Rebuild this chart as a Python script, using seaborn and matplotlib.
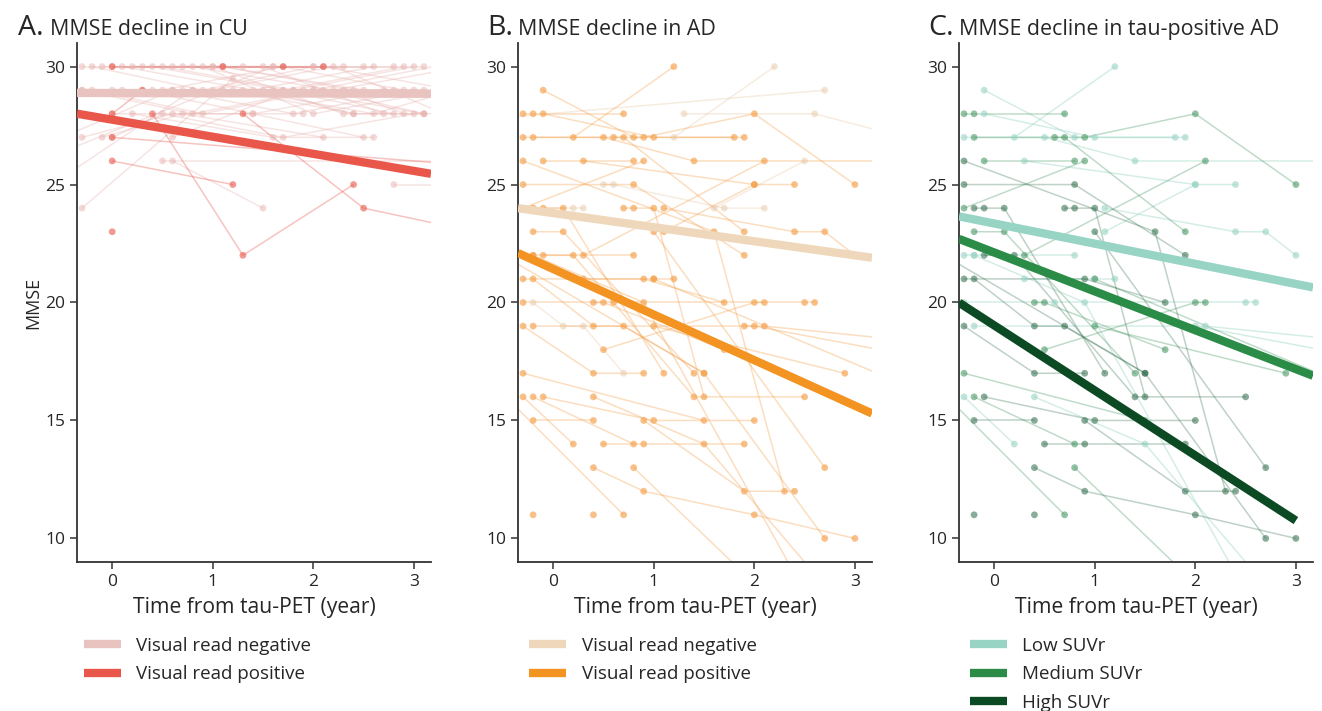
import numpy as np
import pandas as pd
import matplotlib
matplotlib.use("Agg")
import matplotlib.pyplot as plt
from matplotlib.lines import Line2D
import seaborn as sns

sns.set_style("ticks")
plt.rcParams['font.family'] = ['Open Sans', 'DejaVu Sans']

# ---- individual trajectories, (time from tau-PET in years, MMSE) per visit ----
# panel A, cognitively unimpaired
CU_NEG = [
    [(-0.3, 30), (1.0, 30), (2.3, 30)],
    [(-0.2, 30), (0.9, 29), (2.0, 30)],
    [(-0.1, 30), (1.1, 30), (2.4, 29)],
    [(0.0, 30), (1.3, 30), (2.5, 30)],
    [(0.1, 30), (1.4, 29), (2.6, 30)],
    [(0.2, 30), (1.5, 30), (2.7, 28)],
    [(0.3, 30), (1.6, 30), (2.8, 30)],
    [(0.4, 30), (1.7, 29), (2.9, 30)],
    [(0.5, 30), (1.8, 29), (3.0, 30)],
    [(0.6, 30), (2.0, 30), (3.1, 30)],
    [(0.7, 30), (2.1, 30), (3.4, 29)],
    [(0.8, 30), (2.2, 29), (3.5, 30)],
    [(0.9, 30), (2.0, 28), (3.3, 29)],
    [(1.0, 30), (2.3, 28), (3.5, 28)],
    [(1.1, 30), (2.5, 29), (3.6, 29)],
    [(-0.3, 29), (0.8, 28), (2.0, 29)],
    [(-0.2, 29), (0.9, 28), (2.1, 29), (3.1, 28)],
    [(0.0, 29), (1.2, 29), (2.4, 28)],
    [(0.1, 29), (1.3, 29), (2.6, 28), (3.4, 29)],
    [(0.3, 29), (1.4, 28), (2.7, 29)],
    [(0.4, 29), (1.6, 29), (2.8, 29)],
    [(0.5, 29), (1.7, 30), (2.9, 29)],
    [(0.6, 29), (1.8, 28), (3.0, 29)],
    [(0.7, 29), (1.9, 29), (3.1, 29)],
    [(0.8, 29), (2.0, 29), (3.2, 30)],
    [(1.0, 29), (2.2, 30), (3.3, 28)],
    [(1.1, 29), (2.3, 29), (2.9, 28)],
    [(-0.3, 27), (0.6, 28), (1.9, 28)],
    [(-0.1, 27), (0.7, 28), (2.1, 27)],
    [(0.0, 27), (0.5, 28), (1.7, 27), (3.0, 28)],
    [(0.2, 28), (1.6, 27), (2.6, 27)],
    [(0.0, 28), (1.4, 28), (2.5, 27)],
    [(0.5, 26), (3.6, 26)],
    [(0.6, 26), (1.5, 24)],
    [(0.6, 27), (1.8, 29), (3.1, 28)],
    [(-0.6, 25), (0.8, 29)],
    [(-0.6, 26.2), (1.6, 30)],
    [(-0.5, 27), (0.6, 29)],
    [(-0.3, 24), (1.2, 29.5)],
    [(2.8, 25), (3.6, 25)],
    [(1.5, 29), (2.4, 28), (3.1, 28)],
    [(-0.3, 29), (1.7, 29), (2.8, 28)],
]
CU_POS = [
    [(0.4, 28), (1.3, 22), (2.4, 25)],
    [(0.0, 26), (1.2, 25)],
    [(0.0, 23)],
    [(1.3, 28), (2.5, 24), (3.6, 23)],
    [(0.0, 30), (1.1, 30), (1.7, 30), (2.1, 30)],
    [(0.0, 28), (0.3, 29)],
    [(0.0, 27), (3.6, 25.8)],
]

# panels B and C, AD (visual read negative, and tau-positive split by SUVr tertile)
AD_NEG = [
    [(1.2, 27), (2.2, 30)],
    [(-0.6, 27.8), (2.7, 29)],
    [(1.3, 28), (2.6, 28), (3.5, 27)],
    [(1.6, 24), (2.5, 26)],
    [(0.5, 25), (0.6, 25), (1.7, 24), (2.1, 24)],
    [(-0.2, 24), (0.2, 24), (0.3, 24)],
    [(-0.2, 20), (0.1, 19), (0.3, 19), (0.7, 17)],
]
AD_LOW = [
    [(0.2, 27), (1.2, 30)],
    [(-0.1, 29), (0.8, 27), (1.8, 27)],
    [(-0.1, 28), (1.0, 27), (1.9, 27)],
    [(-0.3, 27), (0.5, 27), (1.4, 26), (3.5, 26)],
    [(0.3, 26), (2.0, 25)],
    [(1.1, 24), (2.4, 23), (2.7, 23), (3.0, 22)],
    [(-0.3, 22), (-0.2, 22), (0.8, 22)],
    [(0.3, 21), (1.0, 21), (1.2, 21)],
    [(1.1, 23), (2.0, 25), (2.4, 25)],
    [(-0.3, 20), (0.6, 20), (2.5, 20), (2.6, 20)],
    [(-0.2, 19), (2.1, 19), (3.5, 18.4)],
    [(-0.3, 16), (0.2, 14)],
    [(0.4, 16), (1.5, 14), (2.6, 8.5)],
    [(1.9, 19), (2.0, 19), (3.5, 17.8)],
    [(-0.2, 22), (0.9, 20), (2.4, 8.5)],
]
AD_MED = [
    [(-0.3, 28), (-0.2, 28), (0.7, 28)],
    [(-0.2, 27), (0.9, 27), (2.0, 28), (3.0, 25)],
    [(0.6, 27), (0.7, 27), (1.9, 23)],
    [(-0.1, 26), (0.8, 26)],
    [(-0.3, 24), (0.9, 26)],
    [(0.3, 22), (2.1, 26)],
    [(-0.2, 23), (0.1, 23), (1.4, 17)],
    [(0.4, 20), (0.5, 20), (1.7, 18)],
    [(0.5, 18), (2.0, 20), (2.1, 20)],
    [(1.0, 19), (2.9, 17)],
    [(-0.3, 17), (1.5, 15)],
    [(-0.2, 16), (0.8, 14)],
    [(-0.4, 15.7), (0.7, 11)],
    [(0.8, 13), (1.9, 8.5)],
    [(1.0, 21), (3.5, 16.5)],
]
AD_HIGH = [
    [(-0.3, 26), (1.6, 23), (2.3, 12)],
    [(-0.3, 25), (0.8, 25), (1.9, 22)],
    [(-0.2, 24), (-0.1, 24), (0.1, 24), (1.1, 17)],
    [(0.7, 24), (0.8, 24), (1.0, 24), (1.5, 16)],
    [(1.0, 23), (2.7, 13)],
    [(-0.1, 22), (0.2, 22), (1.4, 16), (2.5, 16)],
    [(-0.3, 21), (0.9, 21), (1.7, 20)],
    [(-0.2, 21), (0.4, 19), (0.7, 19), (1.5, 17)],
    [(-0.3, 19), (0.4, 17), (0.9, 17)],
    [(-0.5, 22), (1.5, 17), (2.7, 10)],
    [(-0.1, 16), (1.0, 15), (2.0, 15)],
    [(-0.2, 15), (0.4, 15)],
    [(0.5, 14), (0.9, 14), (1.9, 14)],
    [(0.4, 13), (0.9, 12), (2.0, 11), (3.0, 10)],
    [(-0.2, 11)],
    [(0.4, 11)],
    [(0.9, 15), (1.9, 12), (2.4, 12)],
]

# ---- model trends (intercept at time 0, slope per year, last time shown) ----
CU_TREND_LABELS = ["Visual read negative", "Visual read positive"]
CU_TREND_INTERCEPT = [28.88, 27.75]
CU_TREND_SLOPE = [-0.01, -0.724]
CU_TREND_END = [3.17, 3.17]

AD_TREND_LABELS = ["Visual read negative", "Visual read positive"]
AD_TREND_INTERCEPT = [23.79, 21.42]
AD_TREND_SLOPE = [-0.597, -1.932]
AD_TREND_END = [3.17, 3.17]

TAU_TREND_LABELS = ["Low SUVr", "Medium SUVr", "High SUVr"]
TAU_TREND_INTERCEPT = [23.35, 22.12, 19.03]
TAU_TREND_SLOPE = [-0.855, -1.648, -2.758]
TAU_TREND_END = [3.17, 3.17, 3.0]

XLIM = (-0.35, 3.17)
YLIM = (9, 31)


def to_long(groups):
    rows = []
    sid = 0
    for label, subjects in groups:
        for visits in subjects:
            for t, m in visits:
                rows.append({"subject": sid, "group": label, "time": t, "mmse": m})
            sid += 1
    return pd.DataFrame(rows)


def trend_frame(labels, intercepts, slopes, ends):
    rows = []
    for lab, b0, b1, end in zip(labels, intercepts, slopes, ends):
        for t in np.linspace(XLIM[0], end, 30):
            rows.append({"group": lab, "time": t, "mmse": b0 + b1 * t})
    return pd.DataFrame(rows)


def draw_panel(ax, df, styles, trends, trend_colors):
    for g, (col, la, pa) in styles.items():
        sub = df[df["group"] == g]
        if sub.empty:
            continue
        sns.lineplot(data=sub, x="time", y="mmse", units="subject", estimator=None,
                     color=col, alpha=la, lw=1.1, ax=ax, legend=False)
        sns.scatterplot(data=sub, x="time", y="mmse", color=col, alpha=pa, s=24,
                        edgecolor="none", ax=ax, legend=False, zorder=3)
    for lab, col in trend_colors.items():
        sub = trends[trends["group"] == lab]
        sns.lineplot(data=sub, x="time", y="mmse", color=col, lw=6, ax=ax,
                     legend=False, zorder=5, solid_capstyle="butt")
    ax.set_xlim(*XLIM)
    ax.set_ylim(*YLIM)
    ax.set_xticks([0, 1, 2, 3])
    ax.set_yticks([10, 15, 20, 25, 30])
    ax.tick_params(labelsize=12.5, length=5, width=1.1, color="#333333")
    for s in ["left", "bottom"]:
        ax.spines[s].set_linewidth(1.3)
        ax.spines[s].set_color("#333333")
    sns.despine(ax=ax)
    ax.set_xlabel("Time from tau-PET (year)", fontsize=15.2, labelpad=5)
    ax.set_ylabel("")


cu_df = to_long([("neg", CU_NEG), ("pos", CU_POS)])
ad_df = to_long([("neg", AD_NEG), ("low", AD_LOW), ("med", AD_MED), ("high", AD_HIGH)])
ad_df["read"] = np.where(ad_df["group"] == "neg", "neg", "pos")
tau_df = ad_df[ad_df["group"] != "neg"]

CU_COLORS = ["#e9c3c0", "#e8574a"]
AD_COLORS = ["#efd7bb", "#f39322"]
TAU_COLORS = ["#98d4c4", "#2a8c46", "#0b4a23"]

fig = plt.figure(figsize=(13.22, 7.11), dpi=100)
W, H = 1322, 711
lefts = [77, 518, 959]
axes = [fig.add_axes([l / W, 1 - 562 / H, 354 / W, (562 - 43) / H]) for l in lefts]

draw_panel(axes[0], cu_df,
           {"neg": ("#e8b3b0", 0.35, 0.5), "pos": ("#e8574a", 0.35, 0.6)},
           trend_frame(CU_TREND_LABELS, CU_TREND_INTERCEPT, CU_TREND_SLOPE, CU_TREND_END),
           dict(zip(CU_TREND_LABELS, CU_COLORS)))

ad_b = ad_df.assign(group=ad_df["read"])
draw_panel(axes[1], ad_b,
           {"neg": ("#e8c9a6", 0.35, 0.5), "pos": ("#f5a04a", 0.35, 0.65)},
           trend_frame(AD_TREND_LABELS, AD_TREND_INTERCEPT, AD_TREND_SLOPE, AD_TREND_END),
           dict(zip(AD_TREND_LABELS, AD_COLORS)))

draw_panel(axes[2], tau_df,
           {"low": ("#98d4c4", 0.4, 0.6), "med": ("#4a9a66", 0.35, 0.6),
            "high": ("#2b6a48", 0.3, 0.55)},
           trend_frame(TAU_TREND_LABELS, TAU_TREND_INTERCEPT, TAU_TREND_SLOPE, TAU_TREND_END),
           dict(zip(TAU_TREND_LABELS, TAU_COLORS)))

axes[0].set_ylabel("MMSE", fontsize=13, labelpad=2)

# panel titles
titles = [("A.", "MMSE decline in CU", 18, 50),
          ("B.", "MMSE decline in AD", 487, 518),
          ("C.", "MMSE decline in tau-positive AD", 928, 959)]
for letter, text, x0, x1 in titles:
    fig.text(x0 / W, 1 - 35 / H, letter, fontsize=20.5, va="baseline", ha="left")
    fig.text(x1 / W, 1 - 35 / H, text, fontsize=15.4, va="baseline", ha="left")

# legends under each panel
legends = [(CU_TREND_LABELS, CU_COLORS, 84), (AD_TREND_LABELS, AD_COLORS, 529),
           (TAU_TREND_LABELS, TAU_COLORS, 970)]
for labels, colors, x0 in legends:
    handles = [Line2D([0], [0], color=c, lw=6, solid_capstyle="butt") for c in colors]
    fig.legend(handles, labels, loc="upper left", bbox_to_anchor=(x0 / W, 1 - 637 / H),
               frameon=False, fontsize=13.5, handlelength=1.95, handletextpad=0.85,
               labelspacing=0.55, borderpad=0, borderaxespad=0)

fig.savefig("out.png", dpi=100)
